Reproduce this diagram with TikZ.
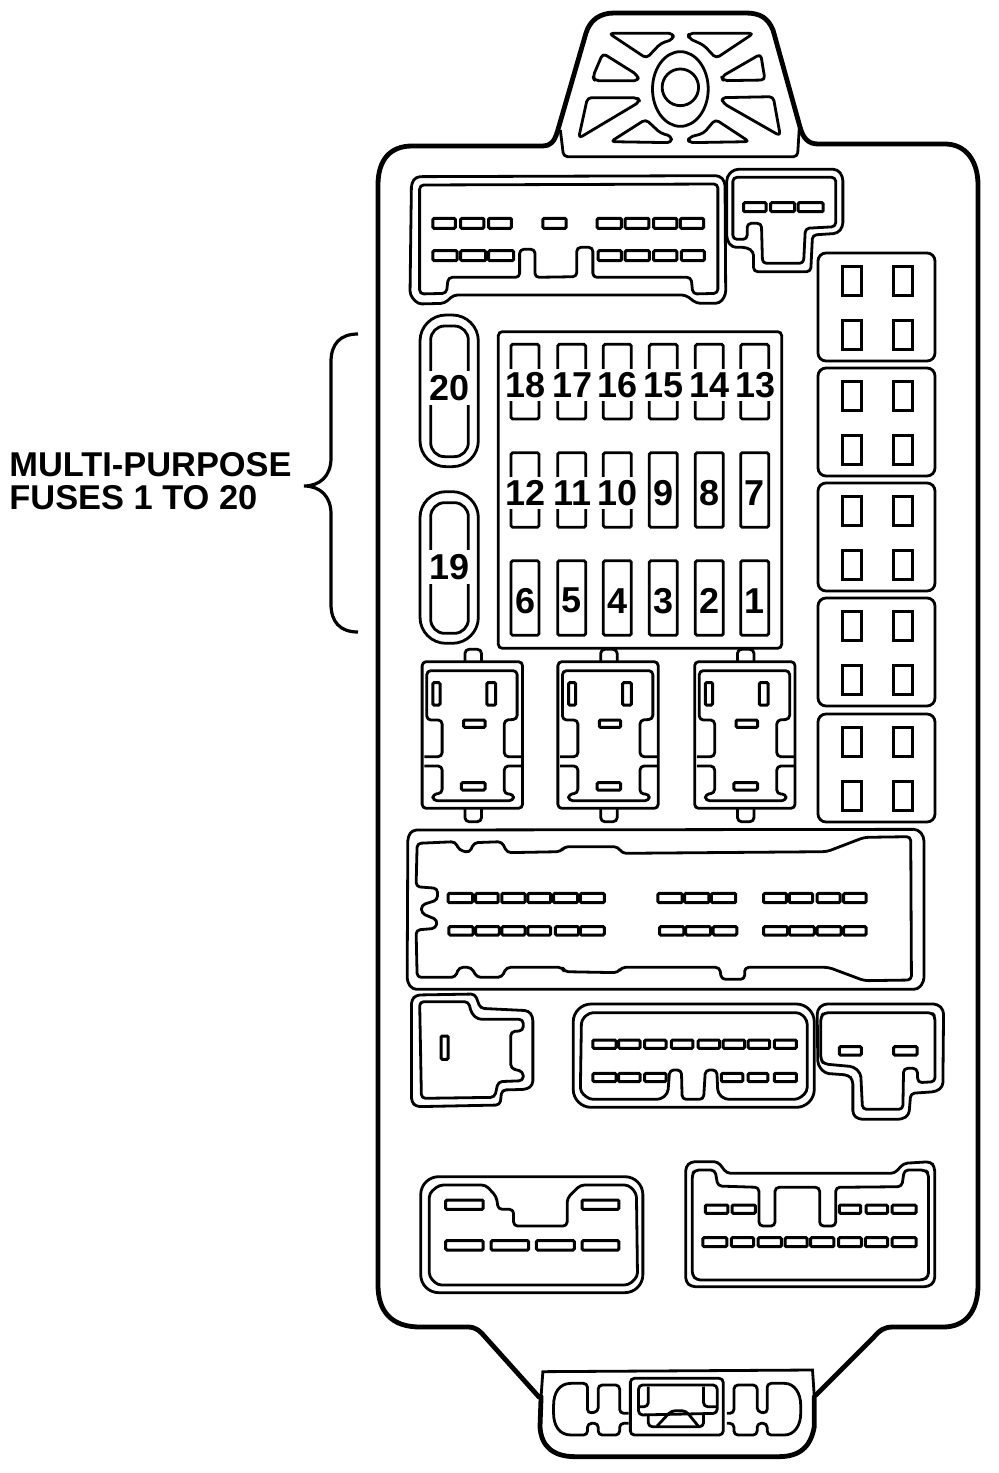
\documentclass[tikz,border=0pt]{standalone}
\usepackage{fontspec}
\setmainfont{Liberation Sans}
\tikzset{
	boxline/.style={line width=1.4pt,rounded corners=2pt,line join=round},
	softline/.style={line width=1.4pt,rounded corners=2pt,line join=round},
	heavyline/.style={line width=2.4pt,line join=round,line cap=round},
	slotline/.style={line width=1.5pt,rounded corners=0.6pt},
	fuselabel/.style={font=\bfseries\fontsize{18}{18}\selectfont,inner sep=0.5pt},
	notelabel/.style={font=\bfseries\fontsize{17.2}{17.2}\selectfont,align=left,inner sep=0pt,anchor=north west},
	ztop/.style={shift={(400,0)},xscale=0.35714,yscale=0.33333},
	zmid/.style={shift={(400,640)},xscale=0.35714,yscale=0.33333},
	zlow/.style={shift={(400,990)},xscale=0.35714,yscale=0.33333},
	zfuse/.style={shift={(410,310)},scale=0.33333}
}
% one row of contact slots: top, bottom, list of left/right
\newcommand{\slotrow}[3]{\foreach \sa/\sb in {#3} \draw[slotline] (\sa,#1) rectangle (\sb,#2);}

\begin{document}
\begin{tikzpicture}[x=0.5pt,y=-0.5pt]
	\useasboundingbox (0,0) rectangle (998,1473);

	% housing
	\draw[heavyline] (557,133) -- (586,33) .. controls (590,20) and (600,13) .. (614,13) -- (746,13)
		.. controls (760,13) and (768,18) .. (773,30) -- (800,127) .. controls (803,138) and (808,144) .. (818,144)
		-- (945,144) .. controls (965,144) and (978,160) .. (978,185) -- (978,1285)
		.. controls (978,1312) and (965,1327) .. (943,1327) -- (893,1327) .. controls (884,1327) and (880,1330) .. (873,1338) -- (816,1395);
	\draw[heavyline] (539,1397) -- (486,1338) .. controls (480,1331) and (476,1327) .. (468,1327) -- (420,1327)
		.. controls (392,1327) and (378,1312) .. (378,1285) -- (378,185) .. controls (378,160) and (390,146) .. (412,146)
		-- (543,146) .. controls (550,146) and (554,142) .. (557,133);

	% top lug
	\begin{scope}[ztop]
		\draw[boxline] (449,390) -- (458,470) -- (1113,470) -- (1118,385);
		\draw[boxline] (785,262) ellipse [x radius=51,y radius=55];
		\draw[boxline] (785,267) ellipse [x radius=78,y radius=112];
		\draw[boxline] (585,100) -- (765,100) -- (765,118) -- (730,130) -- (690,175) -- cycle;
		\draw[boxline] (808,100) -- (990,100) -- (885,175) -- (850,135) -- (808,115) -- cycle;
		\draw[boxline] (568,160) -- (665,225) -- (668,242) -- (545,242) -- (540,230) -- cycle;
		\draw[boxline] (1010,162) -- (1022,240) -- (905,242) -- (900,230) -- cycle;
		\draw[boxline] (525,293) -- (665,293) -- (672,305) -- (500,415) -- cycle;
		\draw[boxline] (900,293) -- (1045,290) -- (1065,408) -- (905,310) -- cycle;
		\draw[boxline] (688,358) -- (730,400) -- (760,408) -- (760,428) -- (590,425) -- cycle;
		\draw[boxline] (883,358) -- (978,425) -- (808,428) -- (808,412) -- (850,400) -- cycle;

		% top connectors
		\draw[softline] (45,530) -- (895,527) -- (910,545) -- (912,885) -- (895,910) -- (830,910) -- (800,885) -- (150,885) -- (125,910) -- (50,912) -- (28,885) -- (32,550) -- cycle;
		\draw[boxline] (55,555) -- (890,552) -- (890,880) -- (820,882) -- (815,832) -- (540,832) -- (540,742) -- (495,742) -- (495,830) -- (378,832) -- (378,748) -- (335,748) -- (335,832) -- (135,832) -- (130,880) -- (55,882) -- cycle;
		\slotrow{655}{685}{92/155,170/235,248/312,400/465,552/620,630/697,710/775,785/850}
		\slotrow{752}{782}{92/160,170/240,248/318,555/620,630/698,710/775,788/852}
		\draw[softline] (935,508) -- (1225,508) -- (1240,530) -- (1240,680) -- (1225,700) -- (1155,705) -- (1150,815) -- (990,815) -- (990,755) -- (970,742) -- (930,742) -- (915,720) -- (915,530) -- cycle;
		\draw[boxline] (932,532) -- (1220,532) -- (1220,680) -- (1135,685) -- (1130,790) -- (1015,790) -- (1012,670) -- (972,670) -- (972,718) -- (932,718) -- cycle;
		\slotrow{608}{635}{962/1025,1038/1105,1115/1185}
	\end{scope}

	% right hand blocks
	\foreach \blocktop in {253,368,483,598,714} {
		\draw[line width=1.4pt,rounded corners=4pt] (818,\blocktop) rectangle (935,\blocktop+108);
		\foreach \holex in {842,893} \foreach \holey in {13,67} {
			\draw[line width=1.5pt] (\holex,\blocktop+\holey) rectangle (\holex+19,\blocktop+\holey+29);
		}
	}

	% fuse block
	\begin{scope}[zfuse]
		\draw[line width=1.4pt,rounded corners=2pt] (265,65) rectangle (1115,1015);
		\foreach \fusex/\rowtop/\fusenum in {345/103/18,485/103/17,622/103/16,760/103/15,898/103/14,1034/103/13,
			345/428/12,485/428/11,622/428/10,760/428/9,898/428/8,1034/428/7,
			345/752/6,485/752/5,622/752/4,760/752/3,898/752/2,1034/752/1} {
			\draw[line width=1.4pt,rounded corners=0.8pt] (\fusex-42,\rowtop) rectangle (\fusex+42,\rowtop+224);
			\ifnum\fusenum>9
				\node[fuselabel,fill=white,minimum height=16pt] (fuse\fusenum) at (\fusex+2,\rowtop+122) {\fusenum};
			\else
				\node[fuselabel] (fuse\fusenum) at (\fusex+1,\rowtop+120) {\fusenum};
			\fi
		}
		\draw[line width=1.4pt,rounded corners=13pt] (30,15) rectangle (205,470);
		\draw[line width=1.4pt,rounded corners=7pt] (62,48) rectangle (175,440);
		\node[fuselabel,fill=white,minimum height=17pt,minimum width=21pt] (fuse20) at (120,235) {20};
		\draw[line width=1.4pt,rounded corners=13pt] (30,545) rectangle (205,1000);
		\draw[line width=1.4pt,rounded corners=7pt] (62,578) rectangle (175,970);
		\node[fuselabel,fill=white,minimum height=17pt,minimum width=21pt] (fuse19) at (120,772) {19};
	\end{scope}

	% relays and long connector
	\begin{scope}[zmid]
		\foreach \relayx in {0,380,763} {
			\begin{scope}[shift={(\relayx,0)}]
				\draw[boxline] (182,65) -- (182,28) -- (228,28) -- (228,65);
				\draw[boxline] (182,505) -- (182,545) -- (228,545) -- (228,505);
				\draw[boxline] (62,65) rectangle (343,505);
				\draw[boxline] (68,350) -- (118,350) -- (118,240) -- (75,240) -- (75,92) -- (328,92) -- (328,238) -- (292,240) -- (292,350) -- (340,350);
				\draw[boxline] (68,378) -- (118,378) -- (118,460) -- (92,462) -- (92,482) -- (318,482) -- (318,462) -- (292,462) -- (292,378) -- (340,378);
				\slotrow{128}{195}{92/112,243/268}
				\slotrow{240}{262}{178/238}
				\slotrow{428}{450}{172/238}
			\end{scope}
		}
		\draw[softline] (35,570) -- (1450,568) -- (1467,590) -- (1467,1025) -- (1450,1048) -- (35,1048) -- (20,1025) -- (22,590) -- cycle;
		\draw[boxline] (48,610) -- (155,605) -- (165,630) -- (195,638) -- (207,608) -- (285,605) -- (300,638) -- (450,635) -- (460,620) -- (610,620) -- (622,640) -- (1195,635) -- (1300,592) -- (1430,590) -- (1432,1020) -- (1300,1022) -- (1200,982) -- (965,982) -- (965,1018) -- (900,1018) -- (895,982) -- (620,982) -- (610,998) -- (460,995) -- (455,982) -- (298,982) -- (285,1012) -- (215,1012) -- (200,982) -- (165,982) -- (155,1012) -- (48,1012) -- (45,870) -- (100,865) -- (105,840) -- (60,820) -- (60,795) -- (105,780) -- (105,745) -- (45,740) -- cycle;
		\slotrow{760}{788}{135/203,212/275,285/350,358/422,430/497,505/572,722/790,797/865,872/940,1018/1082,1090/1155,1168/1232,1242/1305}
		\slotrow{860}{885}{137/205,212/278,285/350,358/422,435/500,505/572,727/795,800/870,877/943,1018/1085,1090/1160,1168/1235,1242/1305}
	\end{scope}

	% lower connectors and bottom lug
	\begin{scope}[zlow]
		\draw[softline] (45,15) -- (210,12) -- (225,55) -- (360,62) -- (372,80) -- (372,285) -- (355,298) -- (285,300) -- (280,345) -- (45,350) -- (32,335) -- (32,30) -- cycle;
		\draw[boxline] (55,35) -- (192,35) -- (200,70) -- (218,88) -- (345,88) -- (345,122) -- (310,125) -- (310,235) -- (345,245) -- (345,272) -- (275,275) -- (265,322) -- (60,325) -- cycle;
		\slotrow{138}{208}{115/135}

		\draw[line width=1.4pt,rounded corners=9pt] (485,42) rectangle (1160,352);
		\draw[boxline] (530,68) -- (1120,68) -- (1140,90) -- (1140,305) -- (1115,328) -- (910,328) -- (890,310) -- (887,240) -- (855,240) -- (850,328) -- (790,328) -- (788,240) -- (755,240) -- (750,310) -- (730,328) -- (530,328) -- (505,305) -- (508,90) -- cycle;
		\slotrow{150}{175}{540/605,612/672,685/745,760/820,835/895,905/965,975/1035,1048/1110}
		\slotrow{250}{275}{540/605,612/672,685/745,900/960,975/1030,1048/1110}

		\draw[softline] (1185,42) -- (1505,42) -- (1522,60) -- (1520,290) -- (1500,305) -- (1430,310) -- (1425,375) -- (1405,388) -- (1285,388) -- (1268,375) -- (1268,270) -- (1255,255) -- (1190,250) -- (1170,225) -- (1168,60) -- cycle;
		\draw[boxline] (1188,68) -- (1490,68) -- (1498,80) -- (1498,275) -- (1450,278) -- (1448,235) -- (1410,235) -- (1408,358) -- (1295,358) -- (1290,250) -- (1270,230) -- (1188,222) -- (1178,210) -- (1178,80) -- cycle;
		\slotrow{170}{195}{1230/1292,1382/1448}

		\draw[line width=1.4pt,rounded corners=9pt] (58,560) rectangle (680,908);
		\draw[boxline] (110,585) -- (240,585) -- (270,620) -- (275,658) -- (318,658) -- (318,708) -- (468,708) -- (468,625) -- (505,585) -- (640,585) -- (662,610) -- (665,860) -- (640,885) -- (105,885) -- (82,860) -- (82,610) -- cycle;
		\slotrow{630}{658}{128/233,510/613}
		\slotrow{752}{780}{128/233,255/360,382/488,510/613}

		\draw[softline] (815,515) -- (890,515) -- (915,550) -- (1385,550) -- (1410,520) -- (1485,515) -- (1497,530) -- (1497,875) -- (1480,890) -- (815,890) -- (800,875) -- (800,530) -- cycle;
		\draw[boxline] (825,540) -- (882,540) -- (890,588) -- (1005,592) -- (1005,708) -- (1050,708) -- (1050,592) -- (1175,592) -- (1175,708) -- (1220,708) -- (1220,592) -- (1405,590) -- (1412,540) -- (1470,540) -- (1480,550) -- (1480,860) -- (1465,870) -- (830,870) -- (818,855) -- (818,555) -- cycle;
		\slotrow{645}{670}{855/918,930/995,1230/1290,1305/1365,1378/1445}
		\slotrow{743}{770}{848/915,928/990,1003/1068,1078/1140,1150/1215,1228/1292,1303/1365,1378/1445}

		\draw[line width=1.4pt] (395,1220) -- (400,1145) -- (1155,1140) -- (1160,1220);
		\draw[heavyline] (1160,1220) -- (1160,1310) .. controls (1150,1370) and (1120,1400) .. (1060,1400) -- (490,1400) .. controls (430,1400) and (395,1370) .. (392,1310) -- (395,1220);
		\draw[boxline] (640,1270) -- (615,1270) -- (615,1185) -- (555,1185) -- (555,1265) -- (525,1270) -- (525,1180) -- (490,1180) .. controls (445,1180) and (430,1210) .. (430,1258) .. controls (430,1305) and (445,1335) .. (490,1335) -- (525,1335) -- (525,1300) -- (555,1300) -- (555,1335) -- (615,1335) -- (615,1300) -- (640,1300);
		\draw[boxline] (915,1270) -- (935,1270) -- (935,1185) -- (1000,1185) -- (1000,1265) -- (1028,1270) -- (1028,1180) -- (1065,1180) .. controls (1105,1180) and (1122,1210) .. (1122,1258) .. controls (1122,1305) and (1105,1335) .. (1065,1335) -- (1028,1335) -- (1028,1300) -- (1000,1300) -- (1000,1335) -- (935,1335) -- (935,1300) -- (915,1300);
		\draw[boxline] (645,1165) rectangle (905,1335);
		\draw[boxline] (668,1185) -- (888,1185) -- (888,1270) -- (668,1275) -- cycle;
		\draw[boxline] (695,1190) -- (695,1250) -- (668,1250);
		\draw[boxline] (850,1190) -- (850,1250) -- (888,1250);
		\draw[boxline] (695,1275) -- (695,1310) -- (850,1310) -- (850,1272);
		\draw[boxline] (720,1308) -- (760,1262) -- (800,1262) -- (835,1308);
	\end{scope}

	% label and brace
	\node[notelabel] (fusenote) at (9,452) {MULTI-PURPOSE\\[-0.6pt]FUSES 1 TO 20};
	\coordinate (bracetop) at (358,334);
	\coordinate (bracetip) at (304,486);
	\coordinate (bracebot) at (358,632);
	\draw[line width=1.6pt] (bracetop) .. controls (340,334) and (331,344) .. (331,362) -- (331,458)
		.. controls (331,476) and (320,486) .. (bracetip) .. controls (320,486) and (331,496) .. (331,514) -- (331,604)
		.. controls (331,622) and (340,632) .. (bracebot);
\end{tikzpicture}
\end{document}
